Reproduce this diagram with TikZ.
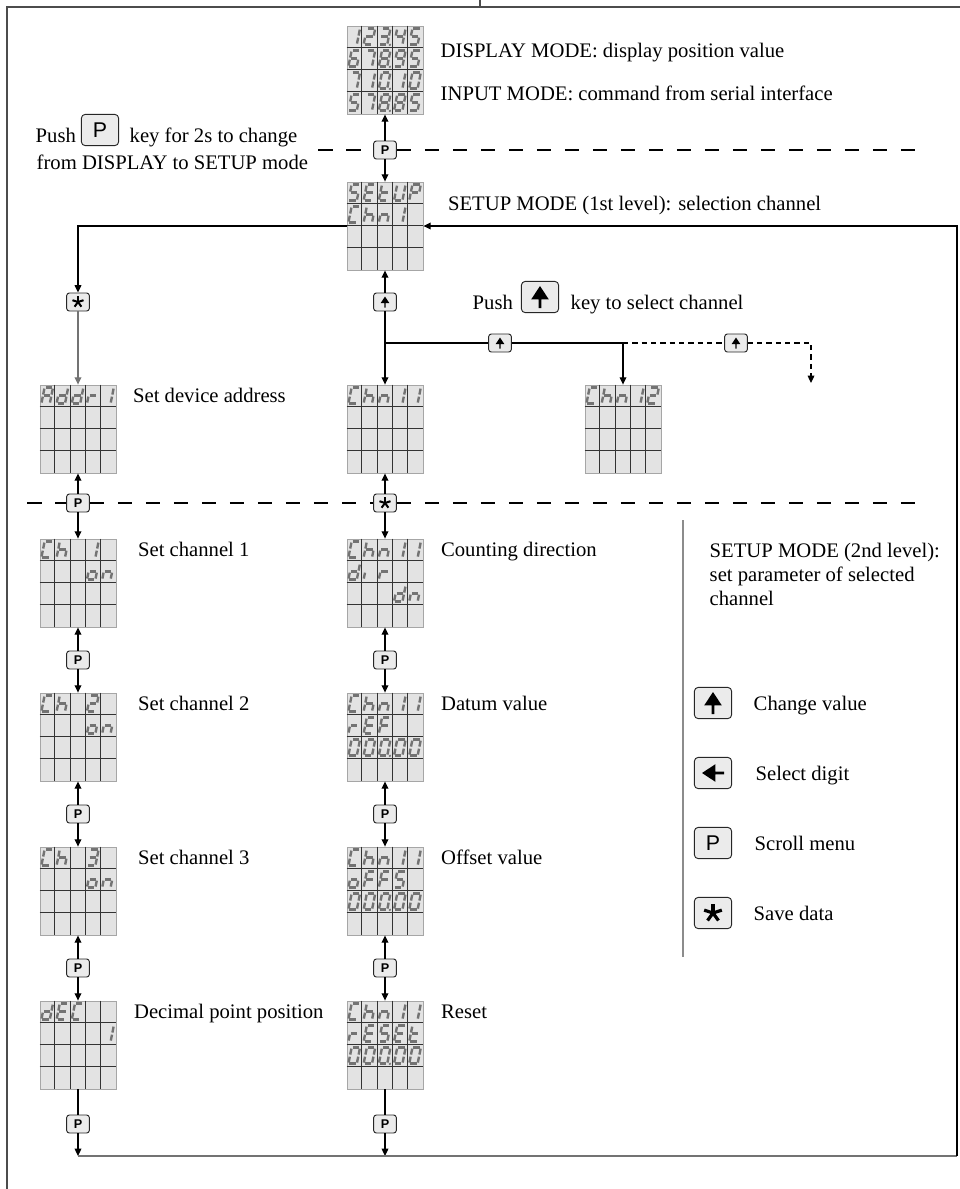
\documentclass[tikz,border=0pt]{standalone}
\usepackage{fontspec}
\setmainfont{Liberation Serif}
\newfontfamily\keyfont{Liberation Sans}
\usetikzlibrary{calc,arrows.meta}

% seven segment codes of the display characters
\pgfkeys{/lcd/.cd,
  0/.initial={a,b,c,d,e,f},   0p/.initial={a,b,c,d,e,f,p},
  1/.initial={b,c},           2/.initial={a,b,g,e,d},
  3/.initial={a,b,g,c,d},     3p/.initial={a,b,g,c,d,p},
  4/.initial={f,g,b,c},       5/.initial={a,f,g,c,d},
  6/.initial={a,f,g,e,d,c},   7/.initial={a,b,c},
  8/.initial={a,b,c,d,e,f,g}, 8p/.initial={a,b,c,d,e,f,g,p},
  9/.initial={a,b,c,d,f,g},
  S/.initial={a,f,g,c,d},     E/.initial={a,f,g,e,d},
  t/.initial={f,g,e,d},       U/.initial={b,c,d,e,f},
  P/.initial={a,b,f,g,e},     C/.initial={a,f,e,d},
  h/.initial={f,e,g,c},       n/.initial={e,g,c},
  A/.initial={a,b,c,e,f,g},   d/.initial={b,c,d,e,g},
  r/.initial={e,g},           o/.initial={c,d,e,g},
  i/.initial={e},             F/.initial={a,f,g,e},
  x/.initial={x}}

% one segment each, glyph centred on (0,0), y runs down
\newcommand\lcdsega{\draw[lcdseg] (-4.2,-8) -- (4.2,-8);}
\newcommand\lcdsegb{\draw[lcdseg] (4.2,-8) -- (4.2,0);}
\newcommand\lcdsegc{\draw[lcdseg] (4.2,0) -- (4.2,8);}
\newcommand\lcdsegd{\draw[lcdseg] (-4.2,8) -- (4.2,8);}
\newcommand\lcdsege{\draw[lcdseg] (-4.2,0) -- (-4.2,8);}
\newcommand\lcdsegf{\draw[lcdseg] (-4.2,-8) -- (-4.2,0);}
\newcommand\lcdsegg{\draw[lcdseg] (-4.2,0) -- (4.2,0);}
\newcommand\lcdsegp{\fill[black!55] (7,8.3) circle (1.3);}
\newcommand\lcdsegx{}

% grid and four rows of characters inside a display node
\newcommand\lcdshow[5]{%
  \foreach \i in {1,...,4}
    \draw[lcdgrid] ($(#1.north west)+(\i*15.2,0)$) -- ($(#1.south west)+(\i*15.2,0)$);
  \foreach \i in {1,2,3}
    \draw[lcdgrid] ($(#1.north west)+(0,\i*22)$) -- ($(#1.north east)+(0,\i*22)$);
  \foreach \lrow [count=\lr from 0] in {{#2},{#3},{#4},{#5}}
    \foreach \lch [count=\lc from 0] in \lrow {
      \edef\lcdsegs{\pgfkeysvalueof{/lcd/\lch}}
      \begin{scope}[shift={($(#1.north west)+(\lc*15.2+7.6,\lr*22+11)$)},xslant=0.2]
        \foreach \s in \lcdsegs {\csname lcdseg\s\endcsname}
      \end{scope}
    }%
}

\begin{document}
\begin{tikzpicture}[x=0.75pt,y=-0.75pt,
    lbl/.style={anchor=base west,font=\fontsize{15.5}{18}\selectfont},
    lcd/.style={rectangle,minimum width=57pt,minimum height=66pt,inner sep=0pt,
                fill=black!11,draw=black!35,line width=0.6pt},
    lcdgrid/.style={black!80,line width=0.75pt},
    lcdseg/.style={black!55,line width=1.8pt,shorten <=0.8pt,shorten >=0.8pt},
    key/.style={rectangle,rounded corners=2pt,minimum width=17pt,minimum height=13.5pt,
                inner sep=0pt,fill=black!8,draw=black!85,line width=0.7pt,
                font=\keyfont\bfseries\fontsize{9.5}{10}\selectfont},
    bigkey/.style={key,rounded corners=3pt,minimum width=28pt,minimum height=23.5pt,
                   font=\keyfont\fontsize{16}{16}\selectfont},
    uparrow/.style={path picture={\fill[black,sharp corners,shift={(path picture bounding box.center)}]
        (0,-5.5*#1) -- (4.4*#1,1.2*#1) -- (0.7*#1,1.2*#1) -- (0.7*#1,5.5*#1)
        -- (-0.7*#1,5.5*#1) -- (-0.7*#1,1.2*#1) -- (-4.4*#1,1.2*#1) -- cycle;}},
    leftarrow/.style={path picture={\fill[black,sharp corners,shift={(path picture bounding box.center)}]
        (-5.5*#1,0) -- (1.2*#1,-4.4*#1) -- (1.2*#1,-0.7*#1) -- (5.5*#1,-0.7*#1)
        -- (5.5*#1,0.7*#1) -- (1.2*#1,0.7*#1) -- (1.2*#1,4.4*#1) -- cycle;}},
    starglyph/.style={path picture={\foreach \a in {-90,-18,54,126,198}
        \draw[black,sharp corners,line width=#1*1.5pt,shift={(path picture bounding box.center)}] (0,0) -- (\a:#1*5.8);}},
    link/.style={line width=0.9pt,-{Triangle[length=5.5pt,width=5pt]}},
    wire/.style={line width=0.9pt},
    sepline/.style={line width=1.9pt,dash pattern=on 11pt off 10pt},
    frame/.style={black!70,line width=0.9pt},
  ]
  \useasboundingbox (0,0) rectangle (960,1189);

  % frame
  \draw[frame] (7,1189) -- (7,7) -- (960,7);
  \draw[frame] (480,0) -- (480,7);

  % displays
  \node[lcd] (disp)   at (385,70)   {};
  \node[lcd] (setup)  at (385,226)  {};
  \node[lcd] (addr)   at (78,429)   {};
  \node[lcd] (chn)    at (385,429)  {};
  \node[lcd] (chnb)   at (623,429)  {};
  \node[lcd] (ch1)    at (78,583)   {};
  \node[lcd] (ch2)    at (78,737)   {};
  \node[lcd] (ch3)    at (78,891)   {};
  \node[lcd] (dec)    at (78,1045)  {};
  \node[lcd] (dir)    at (385,583)  {};
  \node[lcd] (datum)  at (385,737)  {};
  \node[lcd] (offset) at (385,891)  {};
  \node[lcd] (reset)  at (385,1045) {};

  \lcdshow{disp}{1,2,3p,4,5}{6,7,8p,9,5}{7,1,0p,1,0}{5,7,8p,8,5}
  \lcdshow{setup}{S,E,t,U,P}{C,h,n,1,x}{x,x,x,x,x}{x,x,x,x,x}
  \lcdshow{addr}{A,d,d,r,1}{x,x,x,x,x}{x,x,x,x,x}{x,x,x,x,x}
  \lcdshow{chn}{C,h,n,1,1}{x,x,x,x,x}{x,x,x,x,x}{x,x,x,x,x}
  \lcdshow{chnb}{C,h,n,1,2}{x,x,x,x,x}{x,x,x,x,x}{x,x,x,x,x}
  \lcdshow{ch1}{C,h,x,1,x}{x,x,x,o,n}{x,x,x,x,x}{x,x,x,x,x}
  \lcdshow{ch2}{C,h,x,2,x}{x,x,x,o,n}{x,x,x,x,x}{x,x,x,x,x}
  \lcdshow{ch3}{C,h,x,3,x}{x,x,x,o,n}{x,x,x,x,x}{x,x,x,x,x}
  \lcdshow{dec}{d,E,C,x,x}{x,x,x,x,1}{x,x,x,x,x}{x,x,x,x,x}
  \lcdshow{dir}{C,h,n,1,1}{d,i,r,x,x}{x,x,x,d,n}{x,x,x,x,x}
  \lcdshow{datum}{C,h,n,1,1}{r,E,F,x,x}{0,0,0p,0,0}{x,x,x,x,x}
  \lcdshow{offset}{C,h,n,1,1}{o,F,F,S,x}{0,0,0p,0,0}{x,x,x,x,x}
  \lcdshow{reset}{C,h,n,1,1}{r,E,S,E,t}{0,0,0p,0,0}{x,x,x,x,x}

  % keys on the flow
  \node[key] (p0) at (385,150) {P};
  \node[key,starglyph=1] (star0) at (78,302) {};
  \node[key,uparrow=1] (up0) at (385,302) {};
  \node[key,uparrow=1] (up1) at (500,343) {};
  \node[key,uparrow=1] (up2) at (736,343) {};
  \node[key] (p1) at (78,503) {P};
  \node[key,starglyph=1] (star1) at (385,503) {};
  \node[key] (p2) at (78,660)  {P};
  \node[key] (p3) at (78,814)  {P};
  \node[key] (p4) at (78,968)  {P};
  \node[key] (p5) at (78,1124) {P};
  \node[key] (p6) at (385,660)  {P};
  \node[key] (p7) at (385,814)  {P};
  \node[key] (p8) at (385,968)  {P};
  \node[key] (p9) at (385,1124) {P};

  % texts
  \node[lbl] (tdisp)  at (436,57)  {DISPLAY MODE: display position value};
  \node[lbl] (tinput) at (436,100) {INPUT MODE: command from serial interface};
  \node[lbl] (push1)  at (31,142)  {Push};
  \node[bigkey] (pushp) at (100,130) {P};
  \node[lbl] (push1b) at (125,142) {key for 2s to change};
  \node[lbl] (push2)  at (32,169)  {from DISPLAY to SETUP mode};
  \node[lbl] (tsetup) at ($(setup.north east)+(20,29)$) {SETUP MODE (1st level): selection channel};
  \node[lbl] (push3)  at (468,309) {Push};
  \node[bigkey,uparrow=2] (pushup) at (540,297) {};
  \node[lbl] (push3b) at (566,309) {key to select channel};

  \node[lbl] (taddr)   at ($(addr.north east)+(12,18)$)   {Set device address};
  \node[lbl] (tch1)    at ($(ch1.north east)+(17,18)$)    {Set channel 1};
  \node[lbl] (tch2)    at ($(ch2.north east)+(17,18)$)    {Set channel 2};
  \node[lbl] (tch3)    at ($(ch3.north east)+(17,18)$)    {Set channel 3};
  \node[lbl] (tdec)    at ($(dec.north east)+(13,18)$)    {Decimal point position};
  \node[lbl] (tdir)    at ($(dir.north east)+(13,18)$)    {Counting direction};
  \node[lbl] (tdatum)  at ($(datum.north east)+(13,18)$)  {Datum value};
  \node[lbl] (toffset) at ($(offset.north east)+(13,18)$) {Offset value};
  \node[lbl] (treset)  at ($(reset.north east)+(13,18)$)  {Reset};

  % legend
  \draw[black!45,line width=0.8pt] (683,520) -- (683,957);
  \node[lbl,anchor=west,align=left] (tmode) at (705,574)
    {SETUP MODE (2nd level):\\set parameter of selected\\channel};
  \node[bigkey,uparrow=2]      (kup)   at (713,703) {};
  \node[bigkey,leftarrow=2]    (kleft) at (713,773) {};
  \node[bigkey]                (kp)    at (713,843) {P};
  \node[bigkey,starglyph=1.6]  (kstar) at (713,913) {};
  \node[lbl] (lup)   at (749,710) {Change value};
  \node[lbl] (lleft) at (751,780) {Select digit};
  \node[lbl] (lp)    at (750,850) {Scroll menu};
  \node[lbl] (lstar) at (749,920) {Save data};

  % dashed level separators
  \coordinate (sepa) at (318,150);
  \coordinate (sepb) at (928,150);
  \coordinate (sepc) at (27,503);
  \coordinate (sepd) at (928,503);
  \draw[sepline] (sepa) -- (p0) -- (sepb);
  \draw[sepline] (sepc) -- (p1) -- (star1) -- (sepd);

  % connectors
  \draw[link] (p0) -- (disp);
  \draw[link] (p0) -- (setup);
  \draw[link] (setup) -| (star0);
  \draw[link,black!55] (star0) -- (addr);
  \draw[link] (up0) -- (setup);
  \draw[link] (up0) -- (chn);
  \coordinate (br0) at (385,343);
  \draw[wire] (br0) -- (up1);
  \draw[link] (up1) -| (chnb);
  \coordinate (br1) at (623,343);
  \coordinate (dend) at (811,383);
  \draw[wire,dash pattern=on 4pt off 3pt] (br1) -- (up2);
  \draw[link,dash pattern=on 4pt off 3pt] (up2) -| (dend);
  \draw[link] (p1) -- (addr);
  \draw[link] (p1) -- (ch1);
  \draw[link] (star1) -- (chn);
  \draw[link] (star1) -- (dir);
  \foreach \u/\k/\d in {ch1/p2/ch2,ch2/p3/ch3,ch3/p4/dec,dir/p6/datum,datum/p7/offset,offset/p8/reset}{
    \draw[link] (\k) -- (\u);
    \draw[link] (\k) -- (\d);
  }

  % back to the first level
  \coordinate (retL) at (78,1156);
  \coordinate (retM) at (385,1156);
  \coordinate (retR) at (957,1156);
  \draw[wire] (dec) -- (p5);
  \draw[link] (p5) -- (retL);
  \draw[wire] (reset) -- (p9);
  \draw[link] (p9) -- (retM);
  \draw[wire,black!55] (retL) -- (retR);
  \draw[link] (retR) |- (setup);
\end{tikzpicture}
\end{document}
